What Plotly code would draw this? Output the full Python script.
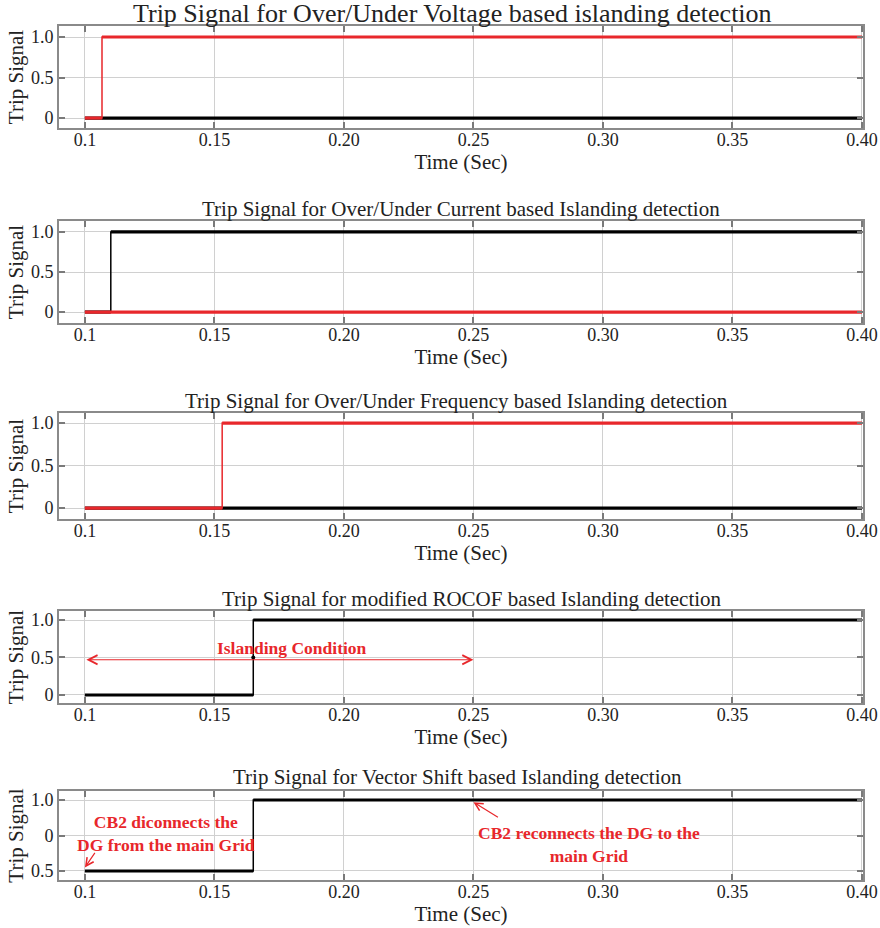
import plotly.graph_objects as go

W, H = 880, 928
FONT = "Liberation Serif"
RED = "#e8272b"
BLACK = "#000000"

# ---- data (time in seconds, trip signal 0/1) ----
volt_red_t = [0.10, 0.1066, 0.1066, 0.40]
volt_red_y = [0, 0, 1, 1]
volt_black_t = [0.10, 0.40]
volt_black_y = [0, 0]

curr_black_t = [0.10, 0.110, 0.110, 0.40]
curr_black_y = [0, 0, 1, 1]
curr_red_t = [0.10, 0.40]
curr_red_y = [0, 0]

freq_black_t = [0.10, 0.40]
freq_black_y = [0, 0]
freq_red_t = [0.10, 0.153, 0.153, 0.40]
freq_red_y = [0, 0, 1, 1]

rocof_t = [0.10, 0.165, 0.165, 0.40]
rocof_y = [0, 0, 1, 1]

vs_t = [0.10, 0.165, 0.165, 0.40]
vs_y = [0, 0, 1, 1]

x_tickvals = [0.10, 0.15, 0.20, 0.25, 0.30, 0.35, 0.40]
x_ticktext = ["0.1", "0.15", "0.20", "0.25", "0.30", "0.35", "0.40"]
y_tickvals = [0, 0.5, 1.0]
y_ticktext = ["0", "0.5", "1.0"]
y_ticktext_vs = ["0.5", "0", "1.0"]

titles = [
    "Trip Signal for Over/Under Voltage based islanding detection",
    "Trip Signal for Over/Under Current based Islanding detection",
    "Trip Signal for Over/Under Frequency based Islanding detection",
    "Trip Signal for modified ROCOF based Islanding detection",
    "Trip Signal for Vector Shift based Islanding detection",
]

# ---- layout geometry (pixels in the window) ----
panels_px = [(26, 128), (221, 323), (413, 519), (611, 703), (791, 880)]
title_px = [(452, 14, 26), (461, 209, 21), (456, 401, 21), (472, 599, 21), (457, 777, 21)]
x_left, x_right = 59, 863
yranges = [(-0.123, 1.136), (-0.137, 1.137), (-0.129, 1.118), (-0.107, 1.12), (-0.127, 1.127)]


def px_x(p):
    return p / W


def px_y(p):
    return 1 - p / H


def horiz_only(t, y):
    xs, ys = [], []
    for i in range(len(t) - 1):
        if y[i] == y[i + 1]:
            xs += [t[i], t[i + 1], None]
            ys += [y[i], y[i + 1], None]
    return xs, ys


fig = go.Figure()

series = [
    [(volt_black_t, volt_black_y, BLACK), (volt_red_t, volt_red_y, RED)],
    [(curr_black_t, curr_black_y, BLACK), (curr_red_t, curr_red_y, RED)],
    [(freq_black_t, freq_black_y, BLACK), (freq_red_t, freq_red_y, RED)],
    [(rocof_t, rocof_y, BLACK)],
    [(vs_t, vs_y, BLACK)],
]

for k, ser in enumerate(series):
    n = "" if k == 0 else str(k + 1)
    for t, y, c in ser:
        fig.add_trace(go.Scatter(x=t, y=y, mode="lines", line=dict(color=c, width=1.5),
                                 xaxis="x" + n, yaxis="y" + n, showlegend=False, hoverinfo="skip"))
        hx, hy = horiz_only(t, y)
        fig.add_trace(go.Scatter(x=hx, y=hy, mode="lines", line=dict(color=c, width=3.2),
                                 xaxis="x" + n, yaxis="y" + n, showlegend=False, hoverinfo="skip",
                                 connectgaps=False))

# small dot at the step of the ROCOF signal
fig.add_trace(go.Scatter(x=[rocof_t[1]], y=[0.5], mode="markers", marker=dict(color=BLACK, size=4),
                         xaxis="x4", yaxis="y4", showlegend=False, hoverinfo="skip"))

axis_common = dict(
    showgrid=True, gridcolor="#d0d0d0", gridwidth=1,
    showline=True, linecolor="#8a8a8a", linewidth=2, mirror="ticks",
    ticks="inside", ticklen=6, tickcolor="#7a7a7a", tickwidth=1.5,
    zeroline=False, tickfont=dict(family=FONT, size=18, color="#222"),
    automargin=False,
)

layout = dict(width=W, height=H, margin=dict(l=0, r=0, t=0, b=0, autoexpand=False),
              paper_bgcolor="white", plot_bgcolor="white",
              font=dict(family=FONT, color="#222"))
annotations = []
for k, (top, bot) in enumerate(panels_px):
    n = "" if k == 0 else str(k + 1)
    xa = dict(axis_common, domain=[px_x(x_left), px_x(x_right)], range=[0.09, 0.4004],
              tickvals=x_tickvals, ticktext=x_ticktext, anchor="y" + n, ticklabelstandoff=-6,
              title=dict(text="Time (Sec)", font=dict(family=FONT, size=21, color="#222"), standoff=0))
    ya = dict(axis_common, domain=[px_y(bot), px_y(top)], range=list(yranges[k]),
              tickvals=y_tickvals, ticktext=(y_ticktext_vs if k == 4 else y_ticktext), anchor="x" + n,
              title=dict(text="Trip Signal", font=dict(family=FONT, size=21, color="#222"), standoff=2))
    layout["xaxis" + n] = xa
    layout["yaxis" + n] = ya
    cx, cy, fs = title_px[k]
    annotations.append(dict(text=titles[k], x=px_x(cx), y=px_y(cy), xref="paper", yref="paper",
                            xanchor="center", yanchor="middle", showarrow=False,
                            font=dict(family=FONT, size=fs, color="#222")))

# Islanding condition double arrow
annotations.append(dict(x=0.25, y=0.47, ax=0.10, ay=0.47, xref="x4", yref="y4", axref="x4", ayref="y4",
                        text="", showarrow=True, arrowhead=5, startarrowhead=5, arrowside="end+start",
                        arrowcolor=RED, arrowwidth=1.2, arrowsize=1.5, startarrowsize=1.5))
annotations.append(dict(x=0.18, y=0.63, xref="x4", yref="y4", text="<b>Islanding Condition</b>",
                        showarrow=False, font=dict(family=FONT, size=17.5, color=RED)))

# Vector shift annotations
annotations.append(dict(x=0.1, y=0.05, xref="x5", yref="y5", ax=11, ay=-16, text="",
                        showarrow=True, arrowhead=5, arrowcolor=RED, arrowwidth=1.2, arrowsize=1.3))
annotations.append(dict(x=0.1314, y=0.53, xref="x5", yref="y5",
                        text="<b>CB2 diconnects the<br>DG from the main Grid</b>",
                        showarrow=False, font=dict(family=FONT, size=17.5, color=RED)))
annotations.append(dict(x=0.25, y=0.97, xref="x5", yref="y5", ax=26, ay=16, text="",
                        showarrow=True, arrowhead=5, arrowcolor=RED, arrowwidth=1.2, arrowsize=1.3))
annotations.append(dict(x=0.2946, y=0.37, xref="x5", yref="y5",
                        text="<b>CB2 reconnects the DG to the<br>main Grid</b>",
                        showarrow=False, font=dict(family=FONT, size=17.5, color=RED)))

layout["annotations"] = annotations
fig.update_layout(**layout)
# remove the default 8px page margin so the figure fills the window exactly
fig.write_html("out.html", config={"displayModeBar": False},
               post_script="document.body.style.margin='0';document.body.style.overflow='hidden';")
